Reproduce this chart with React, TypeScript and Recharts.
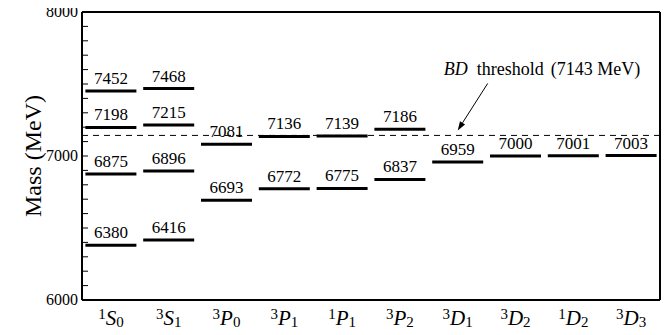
import { ScatterChart, Scatter, XAxis, YAxis, ReferenceLine, ReferenceDot } from "recharts";

// term symbols: (2S+1) L_J
const spins = ["1", "3", "3", "3", "1", "3", "3", "3", "1", "3"];
const waves = ["S", "S", "P", "P", "P", "P", "D", "D", "D", "D"];
const jvals = ["0", "1", "0", "1", "1", "2", "1", "2", "2", "3"];

// predicted masses (MeV) for each state, low to high
const masses1S0 = [6380, 6875, 7198, 7452];
const masses3S1 = [6416, 6896, 7215, 7468];
const masses3P0 = [6693, 7081];
const masses3P1 = [6772, 7136];
const masses1P1 = [6775, 7139];
const masses3P2 = [6837, 7186];
const masses3D1 = [6959];
const masses3D2 = [7000];
const masses1D2 = [7001];
const masses3D3 = [7003];

const threshold = 7143;
const yMajor = [6000, 7000, 8000];

const levels = [masses1S0, masses3S1, masses3P0, masses3P1, masses1P1, masses3P2, masses3D1, masses3D2, masses1D2, masses3D3];
const points = levels.flatMap((ms, i) => ms.map((m) => ({ x: i, mass: m })));
const xTicks = spins.map((_, i) => i);
const yTicks: number[] = [];
for (let v = 6000; v <= 8000; v += 100) yTicks.push(v);

const FONT = "'Liberation Serif', 'Times New Roman', serif";
const HALF = 25.5;

function Level(props: any) {
  const { cx, cy, payload } = props;
  return (
    <g>
      <line x1={cx - HALF} x2={cx + HALF} y1={cy} y2={cy} stroke="#000" strokeWidth={3} />
      <text x={cx} y={cy - 7} textAnchor="middle" fontFamily={FONT} fontSize={17} fill="#000">
        {payload.mass}
      </text>
    </g>
  );
}

function StateTick(props: any) {
  const { x, payload } = props;
  const i = payload.value;
  return (
    <text x={x} y={325} textAnchor="middle" fontFamily={FONT} fill="#000">
      <tspan fontSize={15} dy={-6}>{spins[i]}</tspan>
      <tspan fontSize={21} fontStyle="italic" dy={6}>{waves[i]}</tspan>
      <tspan fontSize={15} dy={2}>{jvals[i]}</tspan>
    </text>
  );
}

function LeftTick(props: any) {
  const { x, y, payload } = props;
  const major = yMajor.includes(payload.value);
  return (
    <g>
      <line x1={x} x2={x + 6} y1={y} y2={y} stroke="#000" strokeWidth={1} />
      {major && (
        <text x={x - 4} y={y + 5} textAnchor="end" fontFamily={FONT} fontSize={16} fill="#000">
          {payload.value}
        </text>
      )}
    </g>
  );
}

function RightTick(props: any) {
  const { x, y } = props;
  return <line x1={x} x2={x - 6} y1={y} y2={y} stroke="#000" strokeWidth={1} />;
}

function Annotation(props: any) {
  const { cx, cy } = props;
  const tx = cx, ty = cy - 5;
  const sx = cx + 30, sy = cy - 52;
  const len = Math.hypot(sx - tx, sy - ty);
  const ux = (sx - tx) / len, uy = (sy - ty) / len;
  const bx = tx + ux * 9, by = ty + uy * 9;
  const head = `${tx},${ty} ${bx - uy * 3},${by + ux * 3} ${bx + uy * 3},${by - ux * 3}`;
  return (
    <g>
      <line x1={sx} y1={sy} x2={bx} y2={by} stroke="#000" strokeWidth={1} />
      <polygon points={head} fill="#000" />
      <text x={cx - 14} y={cy - 60} fontFamily={FONT} fontSize={18} fill="#000">
        <tspan fontStyle="italic">BD</tspan>
        <tspan dx={9}>threshold</tspan>
        <tspan dx={7}>(7143 MeV)</tspan>
      </text>
    </g>
  );
}

export default function App() {
  return (
    <div style={{ width: 662, height: 335, marginTop: -8 }}>
      <ScatterChart width={662} height={335} margin={{ top: 12, right: 0, bottom: 0, left: 0 }}>
        <XAxis
          type="number"
          dataKey="x"
          domain={[-0.5, 9.5]}
          ticks={xTicks}
          interval={0}
          height={35}
          tickLine={false}
          axisLine={{ stroke: "#000", strokeWidth: 2 }}
          tick={<StateTick />}
        />
        <YAxis
          yAxisId="l"
          type="number"
          dataKey="mass"
          domain={[6000, 8000]}
          ticks={yTicks}
          interval={0}
          width={74}
          tickSize={0}
          tickMargin={0}
          tickLine={false}
          axisLine={{ stroke: "#000", strokeWidth: 2 }}
          tick={<LeftTick />}
        />
        <YAxis
          yAxisId="r"
          orientation="right"
          type="number"
          domain={[6000, 8000]}
          ticks={yTicks}
          interval={0}
          width={10}
          tickSize={0}
          tickMargin={0}
          tickLine={false}
          axisLine={{ stroke: "#000", strokeWidth: 2 }}
          tick={<RightTick />}
        />
        <ReferenceLine yAxisId="l" y={8000} stroke="#000" strokeWidth={2} />
        <ReferenceLine yAxisId="l" y={threshold} stroke="#000" strokeWidth={1} strokeDasharray="6 5" />
        <Scatter yAxisId="l" data={points} shape={<Level />} isAnimationActive={false} />
        <ReferenceDot yAxisId="l" x={6} y={threshold} r={0} shape={<Annotation />} />
        <text
          x={25}
          y={156}
          transform="rotate(-90 25 156)"
          textAnchor="middle"
          dominantBaseline="central"
          fontFamily={FONT}
          fontSize={24}
          fill="#000"
        >
          Mass (MeV)
        </text>
      </ScatterChart>
    </div>
  );
}
